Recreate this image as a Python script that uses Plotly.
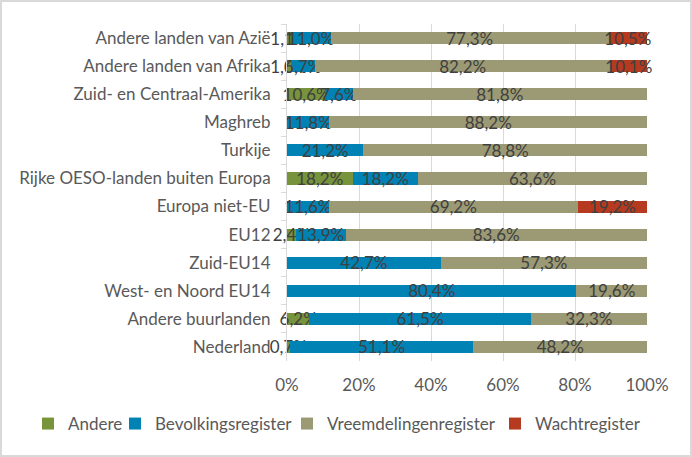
import plotly.graph_objects as go

categories = ["Andere landen van Azië", "Andere landen van Afrika", "Zuid- en Centraal-Amerika",
              "Maghreb", "Turkije", "Rijke OESO-landen buiten Europa", "Europa niet-EU", "EU12",
              "Zuid-EU14", "West- en Noord EU14", "Andere buurlanden", "Nederland"]
andere = [1.1, 1.0, 10.6, 0, 0, 18.2, 0, 2.4, 0, 0, 6.2, 0.7]
bevolking = [11.0, 6.7, 7.6, 11.8, 21.2, 18.2, 11.6, 13.9, 42.7, 80.4, 61.5, 51.1]
vreemdelingen = [77.3, 82.2, 81.8, 88.2, 78.8, 63.6, 69.2, 83.6, 57.3, 19.6, 32.3, 48.2]
wacht = [10.5, 10.1, 0, 0, 0, 0, 19.2, 0, 0, 0, 0, 0]
xticks = [0, 20, 40, 60, 80, 100]

series = [("Andere", andere, "#77933C"),
          ("Bevolkingsregister", bevolking, "#0083B4"),
          ("Vreemdelingenregister", vreemdelingen, "#9C9A74"),
          ("Wachtregister", wacht, "#B63A1F")]
legend_ids = ["legend", "legend2", "legend3", "legend4"]
legend_text_x = [68, 155, 327, 535]  # pixel x where each legend text starts

def fmt(v):
    return (f"{v:.1f}%".replace(".", ",")) if v > 0 else ""

FS = 17
W, H = 692, 457
ml, mr, mt, mb = 287, 45, 24, 96
pw, ph = W - ml - mr, H - mt - mb

fig = go.Figure()
for (name, vals, col), lid in zip(series, legend_ids):
    fig.add_trace(go.Bar(
        y=categories, x=[v / 100 for v in vals], name=name, orientation="h",
        marker=dict(color=col, line=dict(width=0)), legend=lid,
        text=[fmt(v) for v in vals], textposition="inside", insidetextanchor="middle",
        textangle=0, textfont=dict(color="#404040", size=FS), cliponaxis=False,
    ))

legend_cfg = {}
for lid, tx in zip(legend_ids, legend_text_x):
    legend_cfg[lid] = dict(x=(tx - 40 - ml) / pw, xanchor="left",
                           y=(ph - (424 - mt)) / ph, yanchor="middle",
                           font=dict(size=FS, color="#595959"), itemwidth=30,
                           bgcolor="rgba(0,0,0,0)")

fig.update_layout(
    width=W, height=H, barmode="stack", bargap=0.57,
    margin=dict(l=ml, r=mr, t=mt, b=mb, autoexpand=False),
    paper_bgcolor="white", plot_bgcolor="white",
    font=dict(family="Lato, 'Open Sans', sans-serif", size=FS, color="#595959"),
    uniformtext=dict(minsize=FS, mode="show"),
    xaxis=dict(range=[0, 1], tickvals=[t / 100 for t in xticks],
               ticktext=[f"{t}%" for t in xticks], showgrid=True, gridcolor="#D9D9D9",
               gridwidth=1, zeroline=False, ticks="", ticklabelstandoff=12,
               automargin=False, tickfont=dict(size=FS, color="#595959")),
    yaxis=dict(autorange="reversed", showline=True, linecolor="#D9D9D9", linewidth=1,
               ticks="outside", tickson="boundaries", ticklen=5, tickcolor="#D9D9D9",
               automargin=False, tickfont=dict(size=FS, color="#595959"), ticklabelstandoff=12),
    showlegend=True,
    **legend_cfg,
)
fig.add_shape(type="rect", xref="paper", yref="paper",
              x0=(-ml + 1) / pw, x1=(pw + mr - 1) / pw,
              y0=(-mb + 1) / ph, y1=(ph + mt - 1) / ph,
              line=dict(color="#D9D9D9", width=2), layer="below")
fig.write_html("out.html", config={"displayModeBar": False},
               post_script="document.body.style.margin='0';")
